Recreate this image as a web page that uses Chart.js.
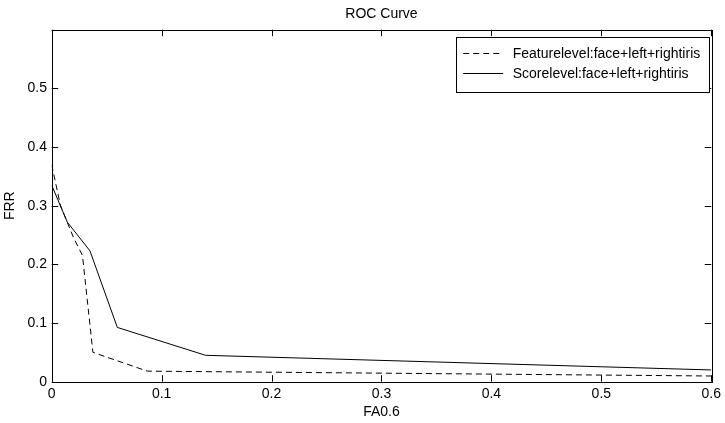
<!DOCTYPE html>
<html>
<head>
<meta charset="utf-8">
<script src="https://cdn.jsdelivr.net/npm/chart.js@4/dist/chart.umd.min.js"></script>
<style>
html,body{margin:0;padding:0;background:#fff;}
#wrap{width:725px;height:423px;position:relative;}
</style>
</head>
<body>
<div id="wrap"><canvas id="c" width="725" height="423"></canvas></div>
<script>
// ---- data ----
const featureFA  = [0, 0.008, 0.02, 0.028, 0.0375, 0.087, 0.6];
const featureFRR = [0.37, 0.30, 0.245, 0.215, 0.050, 0.018, 0.0097];
const scoreFA    = [0, 0.0142, 0.0348, 0.0597, 0.140, 0.6];
const scoreFRR   = [0.335, 0.272, 0.223, 0.0925, 0.045, 0.020];
const seriesLabels = ['Featurelevel:face+left+rightiris', 'Scorelevel:face+left+rightiris'];
const xTicks = [0, 0.1, 0.2, 0.3, 0.4, 0.5, 0.6];
const yTicks = [0, 0.1, 0.2, 0.3, 0.4, 0.5, 0.6];
const yHiddenTick = 0.6;
const chartTitle = 'ROC Curve';
const xTitle = 'FA0.6';
const yTitle = 'FRR';

const FONT = 'Liberation Sans, Arial, Helvetica, sans-serif';
const FS = 14;

function toPts(xs, ys){ return xs.map((x,i)=>({x:x, y:ys[i]})); }

const boxTicks = {
  id: 'boxTicks',
  afterDatasetsDraw(chart){
    const {ctx, chartArea:a, scales:{x, y}} = chart;
    const L = 6.5;
    ctx.save();
    ctx.strokeStyle = '#000';
    ctx.lineWidth = 1;
    ctx.beginPath();
    xTicks.forEach(v=>{
      const px = Math.round(x.getPixelForValue(v)) + 0.5;
      ctx.moveTo(px, a.bottom); ctx.lineTo(px, a.bottom - L);
      ctx.moveTo(px, a.top); ctx.lineTo(px, a.top + L);
    });
    yTicks.forEach(v=>{
      const py = Math.round(y.getPixelForValue(v)) + 0.5;
      ctx.moveTo(a.left, py); ctx.lineTo(a.left + L, py);
      ctx.moveTo(a.right, py); ctx.lineTo(a.right - L, py);
    });
    ctx.stroke();
    ctx.strokeRect(Math.round(a.left)+0.5, Math.round(a.top)+0.5, Math.round(a.right - a.left), Math.round(a.bottom - a.top));

    // title centred over the plot area
    ctx.fillStyle = '#000';
    ctx.font = FS + 'px ' + FONT;
    ctx.textAlign = 'center';
    ctx.textBaseline = 'middle';
    ctx.fillText(chartTitle, (a.left + a.right) / 2, 14);

    // legend box
    const bx = a.left + 404.5, by = a.top + 7.5, bw = 253, bh = 54.5;
    ctx.fillStyle = '#fff';
    ctx.fillRect(bx, by, bw, bh);
    ctx.strokeRect(Math.round(bx)+0.5, Math.round(by)+0.5, Math.round(bw), Math.round(bh));
    chart.data.datasets.forEach((ds, i)=>{
      const ly = by + 15.5 + i*20;
      ctx.save();
      ctx.setLineDash(ds.borderDash || []);
      ctx.strokeStyle = ds.borderColor;
      ctx.lineWidth = ds.borderWidth;
      ctx.beginPath();
      ctx.moveTo(bx + 7, Math.round(ly)+0.5);
      ctx.lineTo(bx + 47, Math.round(ly)+0.5);
      ctx.stroke();
      ctx.restore();
      ctx.fillStyle = '#000';
      ctx.font = FS + 'px ' + FONT;
      ctx.textBaseline = 'middle';
      ctx.textAlign = 'left';
      ctx.fillText(ds.label, bx + 56.5, ly + 1);
    });
    ctx.restore();
  }
};

new Chart(document.getElementById('c'), {
  type: 'scatter',
  data: {
    datasets: [
      { label: seriesLabels[0], data: toPts(featureFA, featureFRR), showLine: true,
        borderColor: '#000', borderWidth: 1, borderDash: [6, 4], pointRadius: 0, fill: false, tension: 0 },
      { label: seriesLabels[1], data: toPts(scoreFA, scoreFRR), showLine: true,
        borderColor: '#000', borderWidth: 1, pointRadius: 0, fill: false, tension: 0 }
    ]
  },
  options: {
    responsive: false,
    animation: false,
    devicePixelRatio: 1,
    layout: { padding: { top: 29.7, right: 10, bottom: 0, left: 0 } },
    plugins: {
      legend: { display: false },
      tooltip: { enabled: false },
      title: { display: false }
    },
    scales: {
      x: {
        type: 'linear', min: 0, max: 0.6,
        afterBuildTicks: s => { s.ticks = xTicks.map(v=>({value:v})); },
        afterFit: s => { s.height = 41.3; },
        grid: { display: false, drawTicks: false },
        border: { display: false },
        ticks: { color: '#000', padding: 4, maxRotation: 0, font: { family: FONT, size: FS },
          callback: v => String(Number(v.toFixed(1))) },
        title: { display: true, text: xTitle, color: '#000', font: { family: FONT, size: FS },
          padding: { top: 0, bottom: 2.5 } }
      },
      y: {
        type: 'linear', min: 0, max: 0.6,
        afterBuildTicks: s => { s.ticks = yTicks.map(v=>({value:v})); },
        afterFit: s => { s.width = 51.7; },
        grid: { display: false, drawTicks: false },
        border: { display: false },
        ticks: { color: '#000', padding: 4.7, font: { family: FONT, size: FS },
          callback: v => (Math.abs(v - yHiddenTick) < 1e-9 ? '' : String(Number(v.toFixed(1)))) },
        title: { display: true, text: yTitle, color: '#000', font: { family: FONT, size: FS },
          padding: { top: 1.5, bottom: 0 } }
      }
    }
  },
  plugins: [boxTicks]
});
</script>
</body>
</html>
